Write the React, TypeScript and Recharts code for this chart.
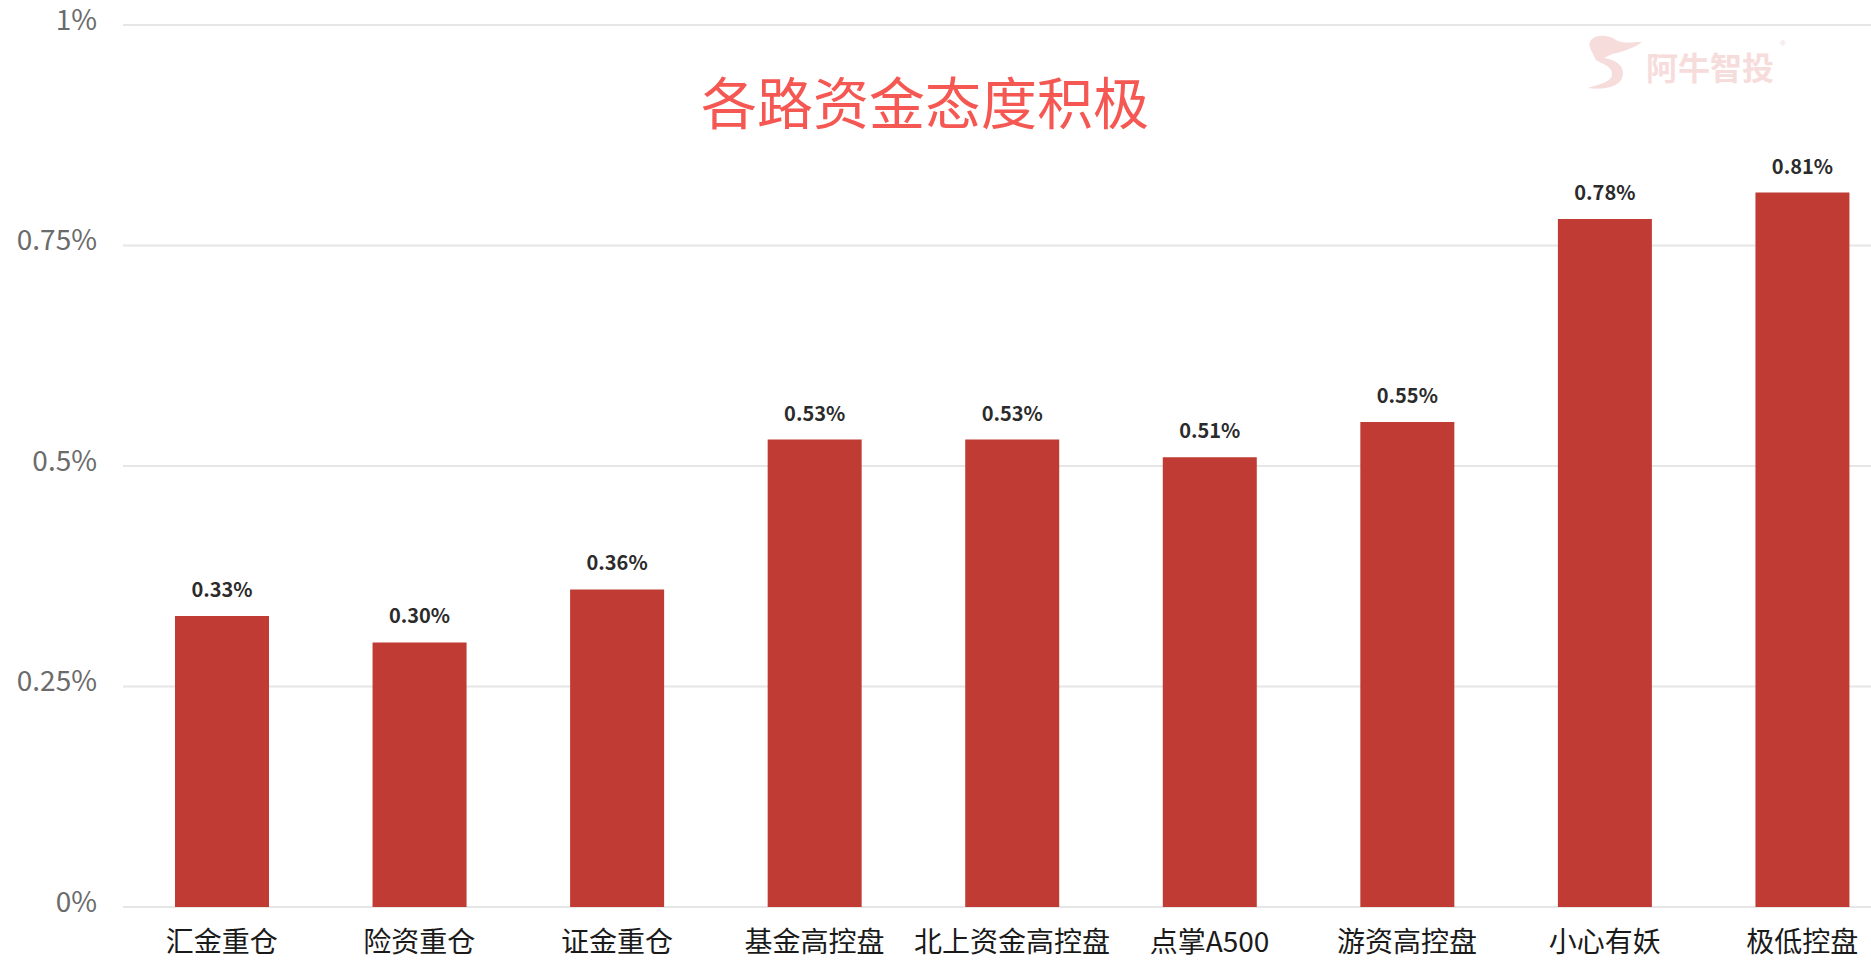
import React from "react"
import { BarChart, Bar, XAxis, YAxis, CartesianGrid, LabelList } from "recharts"

const categories = ["汇金重仓", "险资重仓", "证金重仓", "基金高控盘", "北上资金高控盘", "点掌A500", "游资高控盘", "小心有妖", "极低控盘"]
const values = [0.33, 0.3, 0.36, 0.53, 0.53, 0.51, 0.55, 0.78, 0.81]
const yTicks = [0, 0.25, 0.5, 0.75, 1]
const yTickLabels = ["0%", "0.25%", "0.5%", "0.75%", "1%"]

const data = categories.map((name, i) => ({ name, value: values[i] }))

const FONT = '"Noto Sans CJK SC", "Noto Sans", sans-serif'

export default function App() {
  return (
    <div
      style={{
        position: "absolute",
        left: 0,
        top: 0,
        width: 1871,
        height: 975,
        overflow: "hidden",
        background: "#fff",
        fontFamily: FONT,
      }}
    >
      <BarChart
        width={1901}
        height={975}
        data={data}
        margin={{ top: 25, right: 0, bottom: 0, left: 0 }}
      >
        <CartesianGrid vertical={false} stroke="#e6e6e6" strokeWidth={2} />
        <XAxis
          dataKey="name"
          axisLine={false}
          tickLine={false}
          tickSize={0}
          tickMargin={25}
          height={68}
          interval={0}
          tick={{ fill: "#1a1a1a", fontSize: 28, fontFamily: FONT }}
        />
        <YAxis
          domain={[0, 1]}
          ticks={yTicks}
          width={123}
          axisLine={false}
          tickLine={false}
          tickSize={0}
          tickMargin={26}
          tickFormatter={(v: number) => yTickLabels[yTicks.indexOf(v)] ?? `${v}%`}
          tick={{ fill: "#6b6b6b", fontSize: 28, fontFamily: FONT, dy: -5 }}
        />
        <Bar dataKey="value" fill="#c03b33" barSize={94} isAnimationActive={false}>
          <LabelList
            dataKey="value"
            position="top"
            offset={19}
            formatter={(v: number) => `${v.toFixed(2)}%`}
            style={{ fill: "#2b2b2b", fontSize: 20, fontWeight: 600, fontFamily: FONT }}
          />
        </Bar>
      </BarChart>

      {/* title */}
      <div
        style={{
          position: "absolute",
          left: 0,
          width: 1850,
          top: 64,
          textAlign: "center",
          fontSize: 56,
          lineHeight: "72px",
          color: "#f55752",
          fontFamily: FONT,
        }}
      >
        各路资金态度积极
      </div>

      {/* watermark */}
      <svg style={{ position: "absolute", left: 1582, top: 30 }} width={70} height={65}>
        <path
          d="M8 18 C4 6 22 2 34 10 C42 14 50 12 60 12 C52 18 40 22 30 24 L22 28 C36 30 44 38 40 48 C36 58 20 60 6 58 C18 54 30 52 30 44 C30 36 20 34 14 30 Z"
          fill="#f7dcdc"
        />
      </svg>
      <div
        style={{
          position: "absolute",
          left: 1646,
          top: 45,
          fontSize: 32,
          fontWeight: 700,
          color: "#f7dcdc",
          fontFamily: FONT,
          lineHeight: "42px",
        }}
      >
        阿牛智投
      </div>
      <div
        style={{
          position: "absolute",
          left: 1780,
          top: 36,
          fontSize: 12,
          color: "#f2dede",
          fontFamily: FONT,
        }}
      >
        ®
      </div>
    </div>
  )
}
